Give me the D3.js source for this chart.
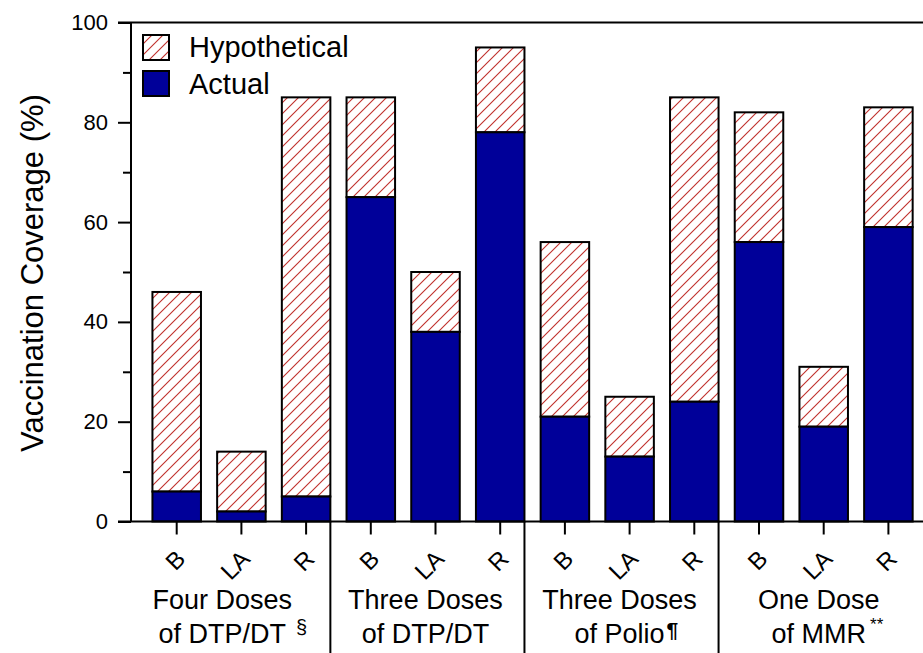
<!DOCTYPE html>
<html>
<head>
<meta charset="utf-8">
<script src="https://cdn.jsdelivr.net/npm/d3@7"></script>
<style>
  html, body { margin: 0; padding: 0; background: #fff; }
  svg { display: block; font-family: "Liberation Sans", Arial, Helvetica, sans-serif; }
</style>
</head>
<body>
<svg id="chart" width="923" height="653"></svg>
<script>
// ---- data ----
const sites = ["B", "LA", "R"];
const groupLine1 = ["Four Doses", "Three Doses", "Three Doses", "One Dose"];
const groupLine2 = ["of DTP/DT", "of DTP/DT", "of Polio", "of MMR"];
const groupMarks = ["§", "", "¶", "**"];
const actual =       [6, 2, 5,   65, 38, 78,   21, 13, 24,   56, 19, 59];
const hypothetical = [46, 14, 85, 85, 50, 95,  56, 25, 85,   82, 31, 83];
const yTicks = [0, 20, 40, 60, 80, 100];
const yMinorTicks = [10, 30, 50, 70, 90];
const legendLabels = ["Hypothetical", "Actual"];

// ---- layout ----
const svg = d3.select("#chart");
const W = 923, H = 653;
const axisX = 131, axisTop = 22.5, axisBottom = 521.5;
const blue = "#000099";
const hatch = "#c0302c";

const ids = d3.range(actual.length);
const x = d3.scaleBand().domain(ids).range([144.35, 920.75]).paddingInner(0.25).paddingOuter(0.125);
const y = d3.scaleLinear().domain([0, 100]).range([axisBottom, axisTop]);

// hatch pattern
const defs = svg.append("defs");
const pat = defs.append("pattern").attr("id", "hatch").attr("patternUnits", "userSpaceOnUse")
  .attr("width", 11).attr("height", 11);
pat.append("rect").attr("width", 11).attr("height", 11).attr("fill", "#fff");
pat.append("path").attr("d", "M-1,12 L12,-1 M-4,4 L4,-4 M7,15 L15,7")
  .attr("stroke", hatch).attr("stroke-width", 1.1).attr("fill", "none");

// bars: hypothetical part (hatched) from actual to hypothetical
const bars = svg.append("g");
bars.selectAll("rect.hyp").data(ids).join("rect").attr("class", "hyp")
  .attr("x", i => x(i)).attr("width", x.bandwidth())
  .attr("y", i => y(hypothetical[i])).attr("height", i => y(actual[i]) - y(hypothetical[i]))
  .attr("fill", "url(#hatch)").attr("stroke", "#000").attr("stroke-width", 2);
bars.selectAll("rect.act").data(ids).join("rect").attr("class", "act")
  .attr("x", i => x(i)).attr("width", x.bandwidth())
  .attr("y", i => y(actual[i])).attr("height", i => y(0) - y(actual[i]))
  .attr("fill", blue).attr("stroke", "#000").attr("stroke-width", 2);

// y axis
const yAxis = d3.axisLeft(y).tickValues(yTicks).tickSize(13).tickPadding(10).tickFormat(d3.format("d"));
const gy = svg.append("g").attr("transform", `translate(${axisX},0)`).call(yAxis);
gy.select(".domain").remove();
gy.selectAll(".tick line").attr("stroke", "#000").attr("stroke-width", 2);
gy.selectAll(".tick text").attr("font-size", 22).attr("fill", "#000")
  .attr("font-family", "Liberation Sans, Arial, sans-serif");
const yMinor = d3.axisLeft(y).tickValues(yMinorTicks).tickSize(8).tickFormat("");
const gym = svg.append("g").attr("transform", `translate(${axisX},0)`).call(yMinor);
gym.select(".domain").remove();
gym.selectAll(".tick line").attr("stroke", "#000").attr("stroke-width", 2);
svg.append("line").attr("x1", axisX).attr("x2", axisX).attr("y1", y(100)).attr("y2", y(0))
  .attr("stroke", "#000").attr("stroke-width", 2);
// top and bottom frame lines
svg.append("line").attr("x1", 118).attr("x2", W).attr("y1", y(100)).attr("y2", y(100))
  .attr("stroke", "#000").attr("stroke-width", 2);
svg.append("line").attr("x1", 118).attr("x2", W).attr("y1", y(0)).attr("y2", y(0))
  .attr("stroke", "#000").attr("stroke-width", 2);

// x ticks and labels
const gx = svg.append("g");
gx.selectAll("line.xt").data(ids).join("line").attr("class", "xt")
  .attr("x1", i => x(i) + x.bandwidth() / 2).attr("x2", i => x(i) + x.bandwidth() / 2)
  .attr("y1", y(0)).attr("y2", y(0) + 13).attr("stroke", "#000").attr("stroke-width", 2);
gx.selectAll("text.xl").data(ids).join("text").attr("class", "xl")
  .attr("transform", i => `translate(${x(i) + x.bandwidth() / 2 + 10},${y(0) + 39}) rotate(-45)`)
  .attr("text-anchor", "end").attr("font-size", 24).attr("fill", "#000")
  .text(i => sites[i % 3]);

// group separators
const seps = [2, 5, 8].map(i => x(i) + x.bandwidth());
svg.selectAll("line.sep").data(seps).join("line").attr("class", "sep")
  .attr("x1", d => d).attr("x2", d => d).attr("y1", y(0)).attr("y2", H)
  .attr("stroke", "#000").attr("stroke-width", 2);

// group labels
const bounds = [118, ...seps, W];
groupLine1.forEach((t, g) => {
  const cx = (bounds[g] + bounds[g + 1]) / 2 - 2;
  svg.append("text").attr("x", cx).attr("y", 609).attr("text-anchor", "middle")
    .attr("font-size", 27).attr("fill", "#000").text(t);
  const t2 = svg.append("text").attr("x", cx).attr("y", 643).attr("text-anchor", "middle")
    .attr("font-size", 27).attr("fill", "#000").text(groupLine2[g]);
  const len = t2.node().getComputedTextLength();
  const endX = cx + len / 2;
  const m = groupMarks[g];
  if (m === "§") {
    svg.append("text").attr("x", endX + 10).attr("y", 634).attr("font-size", 20).attr("fill", "#000").text(m);
  } else if (m === "¶") {
    svg.append("text").attr("x", endX + 2).attr("y", 637).attr("font-size", 21).attr("font-weight", "bold").attr("fill", "#000").text(m);
  } else if (m === "**") {
    svg.append("text").attr("x", endX + 4).attr("y", 630).attr("font-size", 17).attr("fill", "#000").text(m);
  }
});

// y axis title
svg.append("text").attr("transform", `translate(43,${(y(0) + y(100)) / 2 + 1}) rotate(-90)`)
  .attr("text-anchor", "middle").attr("font-size", 31).attr("fill", "#000")
  .text("Vaccination Coverage (%)");

// legend
const leg = svg.append("g");
const legFills = ["url(#hatch)", blue];
legendLabels.forEach((lab, k) => {
  leg.append("rect").attr("x", 143).attr("y", 35 + k * 36).attr("width", 26).attr("height", 25)
    .attr("fill", legFills[k]).attr("stroke", "#000").attr("stroke-width", 2);
  leg.append("text").attr("x", 189).attr("y", 57 + k * 37).attr("font-size", 29).attr("fill", "#000").text(lab);
});
</script>
</body>
</html>
